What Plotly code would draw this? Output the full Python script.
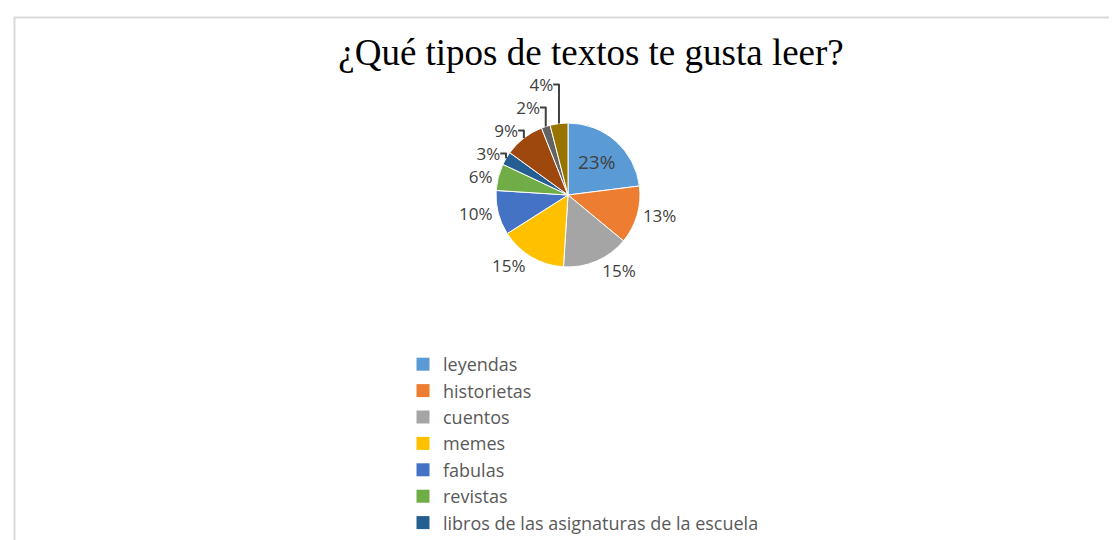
import plotly.graph_objects as go

# categories in legend order (last three are cut off in the original legend)
categories = [
    "leyendas",
    "historietas",
    "cuentos",
    "memes",
    "fabulas",
    "revistas",
    "libros de las asignaturas de la escuela",
    "novelas",
    "poesía",
    "otros",
]
percentages = [23, 13, 15, 15, 10, 6, 3, 9, 2, 4]
colors = [
    "#5B9BD5", "#ED7D31", "#A5A5A5", "#FFC000", "#4472C4",
    "#70AD47", "#255E91", "#9E480E", "#636363", "#997300",
]
legend_visible = 7

W, H = 1117, 540

text_pos = ["inside"] + ["outside"] * (len(categories) - 1)

fig = go.Figure()

fig.add_trace(go.Pie(
    labels=categories,
    values=percentages,
    sort=False,
    direction="clockwise",
    rotation=0,
    marker=dict(colors=colors, line=dict(color="white", width=1)),
    texttemplate="%{value}%",
    textposition=text_pos,
    textfont=dict(family="Open Sans, sans-serif", size=17, color="#404040"),
    insidetextfont=dict(family="Open Sans, sans-serif", size=19, color="#404040"),
    outsidetextfont=dict(family="Open Sans, sans-serif", size=17, color="#404040"),
    insidetextorientation="horizontal",
    showlegend=False,
    domain=dict(x=[488 / W, 632 / W], y=[1 - 259 / H, 1 - 115 / H]),
    hoverinfo="label+percent",
))

# legend entries (only the first ones fit in the picture)
for i in range(legend_visible):
    fig.add_trace(go.Scatter(
        x=[None], y=[None],
        mode="markers",
        name=categories[i],
        legendgroup=categories[i],
        marker=dict(symbol="square", size=13, color=colors[i]),
    ))

fig.update_layout(
    width=W,
    height=H,
    margin=dict(l=0, r=0, t=0, b=0, autoexpand=False),
    paper_bgcolor="white",
    plot_bgcolor="white",
    xaxis=dict(visible=False),
    yaxis=dict(visible=False),
    title=dict(
        text="¿Qué tipos de textos te gusta leer?",
        x=583 / W,
        xanchor="center",
        y=1 - 44 / H,
        yanchor="middle",
        font=dict(family="Liberation Serif, Times New Roman, serif", size=37, color="black"),
    ),
    legend=dict(
        x=395 / W,
        xanchor="left",
        y=1 - 338 / H,
        yanchor="top",
        font=dict(family="Open Sans, sans-serif", size=18, color="#595959"),
        tracegroupgap=0,
        itemwidth=30,
        bgcolor="rgba(0,0,0,0)",
    ),
    shapes=[
        dict(type="rect", xref="paper", yref="paper",
             x0=6.5 / W, x1=1.01, y0=-0.01, y1=1 - 9.5 / H,
             line=dict(color="#D9D9D9", width=2)),
    ],
)

fig.write_html("out.html")
